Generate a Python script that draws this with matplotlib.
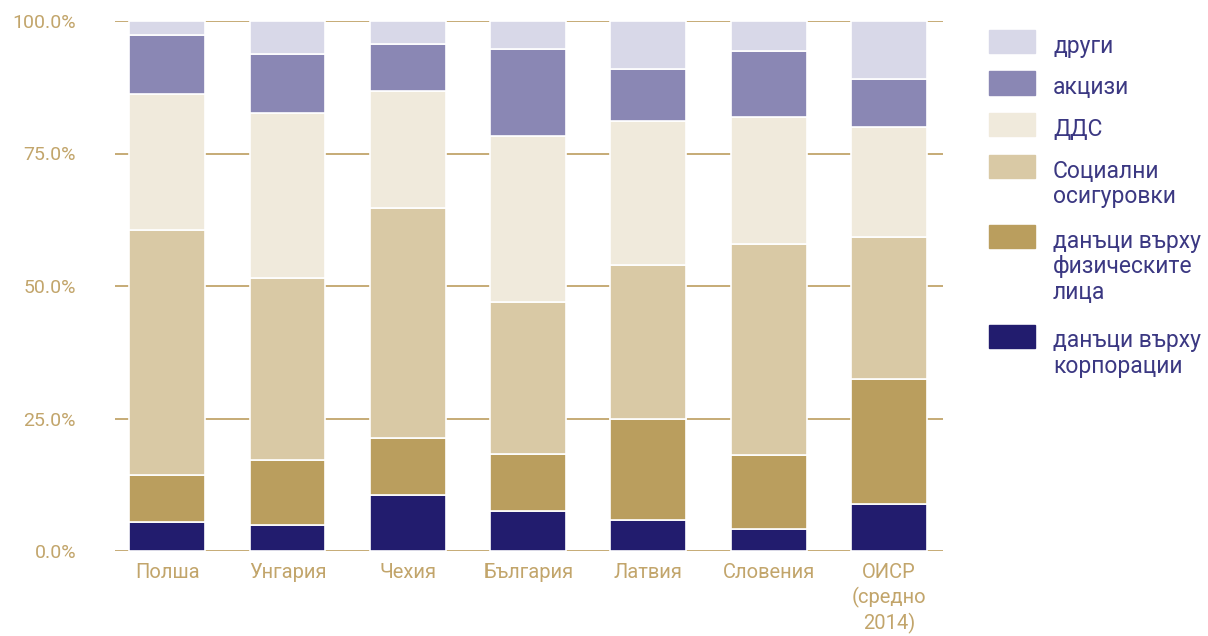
import numpy as np
import matplotlib
matplotlib.use("Agg")
import matplotlib.pyplot as plt
from matplotlib.patches import Rectangle

plt.rcParams['font.family'] = ['Roboto', 'DejaVu Sans']

countries = ['Полша', 'Унгария', 'Чехия', 'България', 'Латвия', 'Словения',
             'ОИСР\n(средно\n2014)']

# shares of total tax revenue, %, bottom to top
corporate = [5.4, 5.0, 10.6, 7.6, 5.8, 4.2, 8.9]
personal = [9.0, 12.1, 10.7, 10.7, 19.1, 14.0, 23.5]
social = [46.1, 34.4, 43.5, 28.6, 29.0, 39.8, 26.9]
vat = [25.8, 31.1, 22.0, 31.4, 27.2, 23.9, 20.7]
excise = [11.1, 11.2, 8.9, 16.4, 9.9, 12.5, 9.1]
other = [2.6, 6.2, 4.3, 5.3, 9.0, 5.6, 10.9]

series = [corporate, personal, social, vat, excise, other]
labels = ['данъци върху\nкорпорации', 'данъци върху\nфизическите\nлица',
          'Социални\nосигуровки', 'ДДС', 'акцизи', 'други']
colors = ['#221C6E', '#BA9E5E', '#D9C9A5', '#F0EADC', '#8A87B4', '#D8D8E8']

gold = '#C2A56B'
ink = '#3B3882'

fig = plt.figure(figsize=(12.08, 6.36), dpi=100)
ax = fig.add_axes([115 / 1208, 1 - 551 / 636, 828 / 1208, 530 / 636])

x = np.arange(len(countries))
bottom = np.zeros(len(countries))
for vals, col in zip(series, colors):
    ax.bar(x, vals, width=0.63, bottom=bottom, color=col,
           edgecolor='white', linewidth=1.2, zorder=2)
    bottom += np.array(vals)

ax.set_xlim(-0.435, 6.45)
ax.set_ylim(0, 100)
ax.set_yticks([0, 25, 50, 75, 100])
ax.set_yticklabels(['0.0%', '25.0%', '50.0%', '75.0%', '100.0%'])
ax.yaxis.grid(True, color=gold, linewidth=1.3, zorder=0)
ax.set_axisbelow(True)
for s in ax.spines.values():
    s.set_visible(False)
ax.tick_params(axis='y', length=0, pad=28, labelsize=14, labelcolor=gold)
ax.set_xticks(x)
ax.set_xticklabels(countries, linespacing=1.3)
ax.tick_params(axis='x', length=0, pad=9, labelsize=14.5, labelcolor=gold)

# legend, top entry first
W, H = 1208, 636
ytop = 30
for lab, col in zip(labels[::-1], colors[::-1]):
    lines = lab.split('\n')
    fig.add_artist(Rectangle((989 / W, 1 - (ytop + 23) / H), 46 / W, 23 / H,
                             transform=fig.transFigure, color=col))
    for k, line in enumerate(lines):
        fig.text(1053 / W, 1 - (ytop + 23 + k * 25.5) / H, line,
                 fontsize=16.5, color=ink, va='baseline', ha='left')
    ytop += 41.5 + (len(lines) - 1) * 29

fig.savefig('out.png', dpi=100)
